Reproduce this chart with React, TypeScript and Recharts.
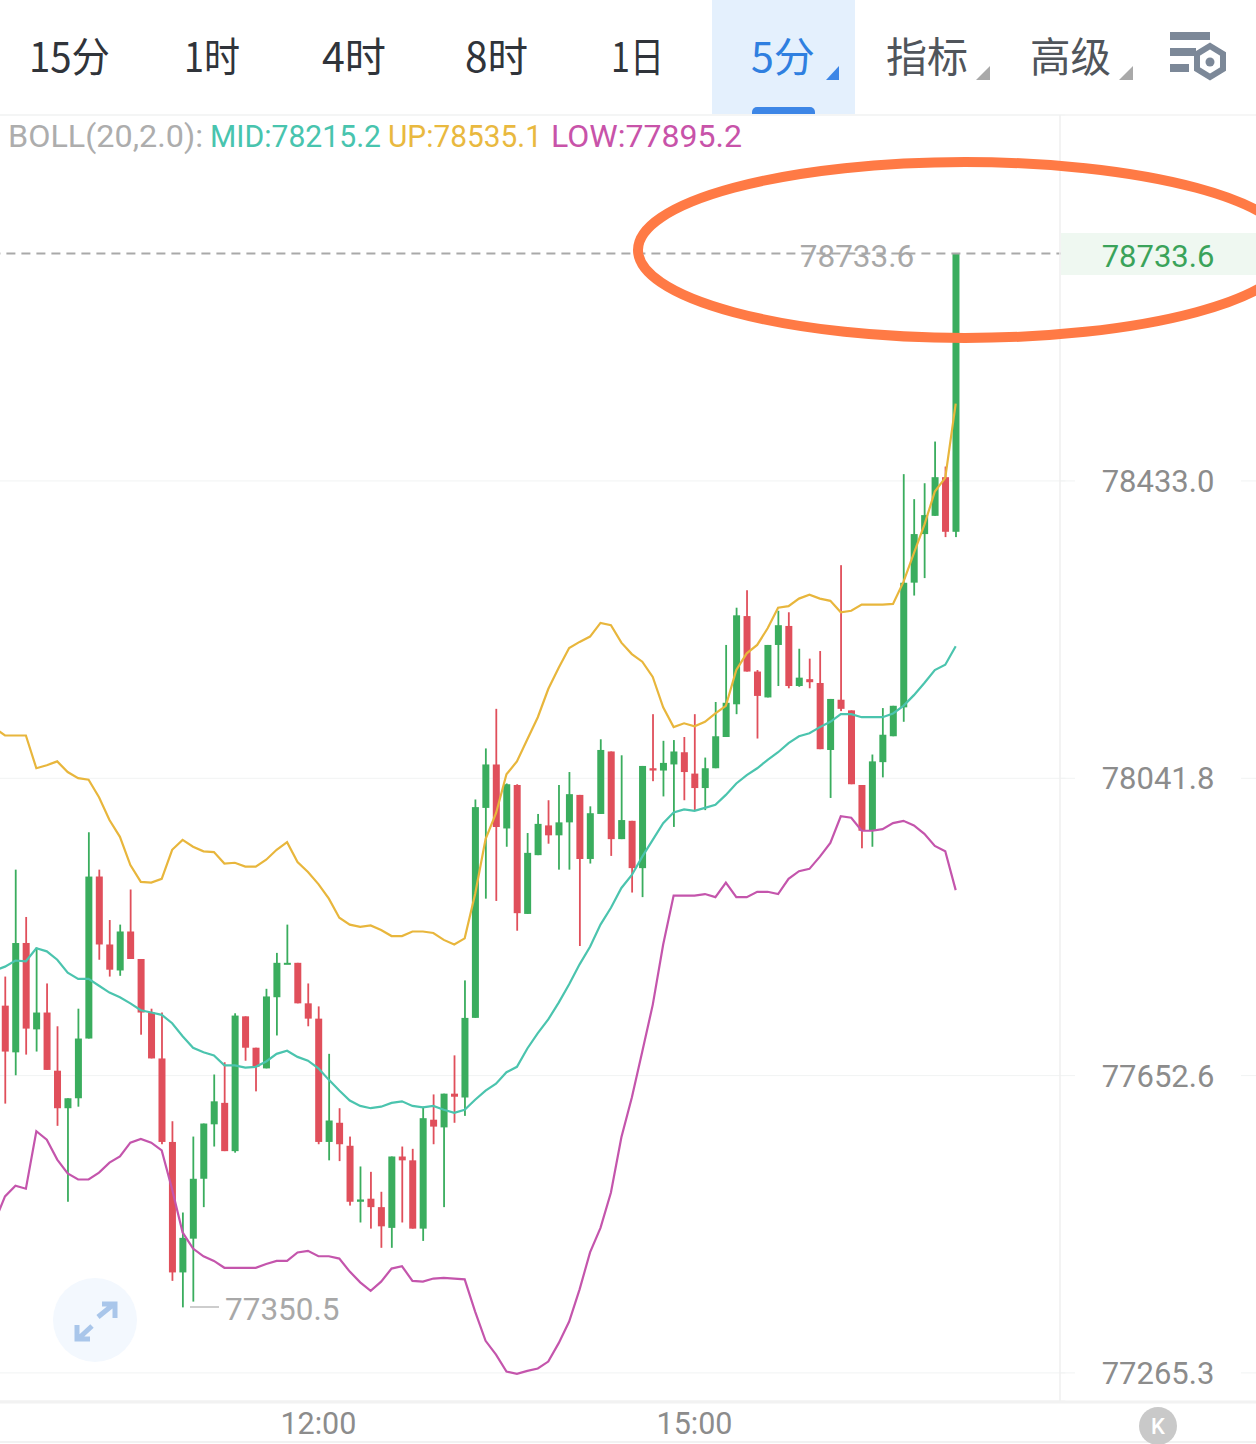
import React from "react";
import { ComposedChart, Bar, Line, XAxis, YAxis, CartesianGrid, ReferenceLine } from "recharts";

// first entry is the 09:25 candle that sits just off the left edge, only its bands show
const opens = [null,
  77744, 77683, 77826, 77713, 77735, 77659, 77610, 77623, 77701, 77913,
  77824, 77790, 77841, 77805, 77735, 77675, 77566, 77396, 77440, 77518,
  77589, 77617, 77554, 77730, 77689, 77662, 77755, 77799, 77800, 77747,
  77727, 77566, 77591, 77561, 77488, 77492, 77481, 77454, 77547, 77542,
  77453, 77595, 77585, 77629, 77624, 77728, 78003, 78060, 77976, 78033,
  77864, 77941, 77980, 77967, 77984, 78020, 77936, 77995, 78077, 77962,
  77986, 77924, 78055, 78052, 78060, 78076, 78048, 78029, 78055, 78096,
  78139, 78255, 78182, 78148, 78217, 78242, 78163, 78172, 78167, 78079,
  78145, 78131, 78033, 77973, 78063, 78097, 78135, 78299, 78363, 78387,
  78438, 78366];
const closes = [null,
  77684, 77826, 77714, 77735, 77660, 77610, 77623, 77701, 77913, 77824,
  77791, 77841, 77805, 77735, 77675, 77566, 77396, 77441, 77518, 77590,
  77619, 77554, 77731, 77689, 77664, 77756, 77800, 77800, 77747, 77727,
  77566, 77594, 77563, 77488, 77491, 77481, 77456, 77547, 77542, 77453,
  77597, 77586, 77629, 77625, 77728, 78004, 78060, 77978, 78034, 77865,
  77944, 77982, 77967, 77984, 78021, 77936, 77996, 78079, 77962, 77987,
  77924, 78058, 78052, 78062, 78077, 78050, 78029, 78055, 78097, 78141,
  78256, 78182, 78150, 78217, 78243, 78163, 78174, 78168, 78080, 78146,
  78133, 78034, 77973, 78064, 78099, 78137, 78299, 78363, 78388, 78438,
  78366, 78733.6];
const highs = [null,
  77782, 77922, 77860, 77820, 77773, 77717, 77623, 77740, 77971, 77922,
  77856, 77850, 77896, 77805, 77740, 77735, 77593, 77474, 77573, 77590,
  77654, 77670, 77734, 77730, 77689, 77766, 77813, 77850, 77800, 77773,
  77743, 77681, 77610, 77573, 77534, 77527, 77501, 77547, 77560, 77557,
  77612, 77628, 77629, 77679, 77777, 78014, 78081, 78133, 78035, 78034,
  77970, 77995, 78013, 78033, 78050, 78020, 78005, 78093, 78077, 78072,
  77986, 78058, 78126, 78091, 78092, 78096, 78126, 78069, 78142, 78217,
  78266, 78289, 78184, 78217, 78262, 78260, 78212, 78199, 78209, 78146,
  78322, 78131, 78033, 78073, 78134, 78137, 78442, 78409, 78430, 78485,
  78452, 78733.6];
const lows = [null,
  77616, 77653, 77680, 77684, 77660, 77587, 77488, 77612, 77701, 77804,
  77782, 77783, 77805, 77706, 77675, 77563, 77385, 77350.5, 77358, 77481,
  77560, 77554, 77552, 77672, 77632, 77662, 77705, 77799, 77747, 77717,
  77563, 77542, 77541, 77483, 77461, 77453, 77428, 77428, 77461, 77453,
  77437, 77563, 77481, 77591, 77600, 77728, 77884, 77881, 77952, 77842,
  77864, 77941, 77956, 77922, 77922, 77822, 77930, 77995, 77940, 77962,
  77892, 77886, 78038, 78018, 77978, 78013, 78000, 78000, 78055, 78096,
  78126, 78182, 78094, 78148, 78163, 78160, 78162, 78160, 78080, 78016,
  78130, 78034, 77950, 77952, 78043, 78097, 78116, 78282, 78305, 78387,
  78359, 78359];

const bollUp = [78108,
  78098, 78098, 78098, 78055, 78059, 78064, 78050, 78042, 78040, 78017,
  77987, 77965, 77928, 77906, 77905, 77910, 77948, 77961, 77952, 77946,
  77945, 77930, 77931, 77926, 77926, 77935, 77948, 77958, 77932, 77919,
  77903, 77884, 77859, 77850, 77847, 77849, 77843, 77835, 77835, 77841,
  77841, 77839, 77830, 77824, 77832, 77890, 77962, 77996, 78047, 78064,
  78093, 78122, 78159, 78187, 78213, 78221, 78228, 78246, 78243, 78220,
  78205, 78195, 78175, 78135, 78109, 78114, 78110, 78116, 78127, 78137,
  78184, 78206, 78217, 78239, 78266, 78268, 78278, 78283, 78278, 78275,
  78260, 78262, 78270, 78270, 78270, 78271, 78300, 78338, 78375, 78419,
  78437, 78535.1];
const bollMid = [77790,
  77795, 77803, 77802, 77819, 77815, 77804, 77787, 77779, 77779, 77770,
  77761, 77755, 77747, 77738, 77735, 77732, 77721, 77704, 77689, 77683,
  77679, 77666, 77666, 77663, 77664, 77671, 77681, 77685, 77677, 77672,
  77662, 77647, 77633, 77620, 77613, 77610, 77612, 77617, 77619, 77613,
  77611, 77613, 77608, 77604, 77608, 77621, 77633, 77642, 77657, 77664,
  77688, 77708, 77726, 77748, 77772, 77798, 77821, 77850, 77872, 77898,
  77915, 77939, 77961, 77983, 77997, 78001, 77999, 78003, 78007, 78020,
  78035, 78046, 78055, 78066, 78076, 78088, 78097, 78101, 78109, 78116,
  78126, 78126, 78122, 78122, 78122, 78127, 78137, 78151, 78167, 78184,
  78191, 78215.2];
const bollLow = [77462,
  77495, 77509, 77505, 77580, 77569, 77543, 77525, 77517, 77517, 77526,
  77539, 77547, 77565, 77570, 77565, 77555, 77504, 77448, 77427, 77417,
  77411, 77402, 77402, 77402, 77402, 77407, 77411, 77411, 77422, 77424,
  77417, 77417, 77414, 77397, 77383, 77372, 77384, 77401, 77404, 77385,
  77384, 77388, 77389, 77388, 77387, 77345, 77307, 77289, 77267, 77264,
  77268, 77271, 77280, 77304, 77332, 77374, 77422, 77454, 77500, 77572,
  77624, 77684, 77745, 77824, 77888, 77888, 77888, 77890, 77886, 77905,
  77886, 77886, 77893, 77893, 77890, 77910, 77920, 77923, 77939, 77957,
  77992, 77990, 77973, 77973, 77975, 77983, 77986, 77980, 77969, 77953,
  77946, 77895.2];

const priceTicks = [78433.0, 78041.8, 77652.6, 77265.3];
const timeTicks = ["12:00", "15:00"];
const lastPrice = 78733.6;
const lowestPrice = "77350.5";

const GREEN = "#3aad5e";
const RED = "#e04f5b";
const FONT = "Roboto, 'Noto Sans CJK SC', sans-serif";
const SLOTS = 103;

// 5 minute candles, the chart keeps some empty slots after the last one
const label = (i: number) => {
  const m = 9 * 60 + 25 + i * 5;
  return `${String(Math.floor(m / 60)).padStart(2, "0")}:${String(m % 60).padStart(2, "0")}`;
};
const rows = Array.from({ length: SLOTS }, (_, i) => ({
  time: label(i),
  open: opens[i],
  high: highs[i],
  low: lows[i],
  close: closes[i],
  up: bollUp[i],
  mid: bollMid[i],
  dn: bollLow[i],
}));

function Candle(props: any) {
  const { x, y, width, height, payload } = props;
  if (payload.open == null || payload.high == null) return null;
  const { open, close, high, low } = payload;
  const py = (v: number) => y + ((high - v) / (high - low)) * height;
  const top = py(Math.max(open, close));
  const bottom = py(Math.min(open, close));
  const color = close >= open ? GREEN : RED;
  const cx = x + width / 2;
  return (
    <g>
      <rect x={cx - 0.9} y={y} width={1.8} height={height} fill={color} />
      <rect x={x} y={top} width={width} height={Math.max(bottom - top, 2)} fill={color} />
    </g>
  );
}

function PriceTick(props: any) {
  const { y, payload } = props;
  return (
    <g>
      <line x1={1060} x2={1075} y1={y} y2={y} stroke="#f1f3f3" />
      <line x1={1241} x2={1256} y1={y} y2={y} stroke="#f1f3f3" />
      <text x={1158} y={y + 11} textAnchor="middle" fontSize={31} fontFamily={FONT} fill="#8c8c8c">
        {payload.value.toFixed(1)}
      </text>
    </g>
  );
}

function TimeTick(props: any) {
  const { x, payload } = props;
  return (
    <text x={x} y={1434} textAnchor="middle" fontSize={30.5} fontFamily={FONT} fill="#8c8c8c">
      {payload.value}
    </text>
  );
}

function Toolbar() {
  const tabs = [
    { t: "15分", x: 29, w: 81, c: "#30343a" },
    { t: "1时", x: 184, w: 56, c: "#30343a" },
    { t: "4时", x: 322, w: 64, c: "#30343a" },
    { t: "8时", x: 465, w: 63, c: "#30343a" },
    { t: "1日", x: 611, w: 53, c: "#30343a" },
    { t: "5分", x: 751, w: 64, c: "#2f7fe0" },
    { t: "指标", x: 886, w: 82, c: "#50555b" },
    { t: "高级", x: 1030, w: 81, c: "#50555b" },
  ];
  return (
    <g>
      <rect x={712} y={0} width={143} height={114} fill="#e4f0fd" />
      <path d="M752 114 v-2 a5 5 0 0 1 5 -5 h53 a5 5 0 0 1 5 5 v2 z" fill="#3d86e6" />
      {tabs.map((d) => (
        <text
          key={d.t}
          x={d.x}
          y={72}
          fontSize={41}
          textLength={d.w}
          lengthAdjust="spacingAndGlyphs"
          fontFamily="'Noto Sans CJK SC', sans-serif"
          fill={d.c}
        >
          {d.t}
        </text>
      ))}
      <path d="M839 66 v14 h-13 z" fill="#3d86e6" />
      <path d="M990 66 v14 h-14 z" fill="#a9a9a9" />
      <path d="M1133 66 v14 h-14 z" fill="#a9a9a9" />
      <rect x={1170} y={32} width={40} height={8} fill="#7c8898" />
      <rect x={1170} y={48} width={26} height={8} fill="#7c8898" />
      <rect x={1170} y={64} width={19} height={8} fill="#7c8898" />
      <path d="M1210 46 l13 8 v15 l-13 8 l-13 -8 v-15 z" fill="none" stroke="#7c8898" strokeWidth={6} />
      <circle cx={1210} cy={62} r={4.5} fill="#7c8898" />
    </g>
  );
}

function LegendText({ x, w, c, t }: { x: number; w: number; c: string; t: string }) {
  return (
    <text x={x} y={147} fontSize={31} fontFamily={FONT} fill={c} textLength={w} lengthAdjust="spacingAndGlyphs">
      {t}
    </text>
  );
}

function Overlay() {
  return (
    <svg width={1256} height={1444} style={{ position: "absolute", left: 0, top: 0 }}>
      <Toolbar />
      <line x1={0} x2={1256} y1={115} y2={115} stroke="#f3f3f3" strokeWidth={1.5} />
      <line x1={1060} x2={1060} y1={115} y2={1401} stroke="#efefef" strokeWidth={1.5} />
      <line x1={0} x2={1256} y1={1402} y2={1402} stroke="#f2f2f2" strokeWidth={3} />
      <line x1={0} x2={1256} y1={1442} y2={1442} stroke="#f2f2f2" strokeWidth={2} />

      <LegendText x={8} w={195} c="#adadad" t="BOLL(20,2.0):" />
      <LegendText x={210} w={171} c="#48c4ae" t="MID:78215.2" />
      <LegendText x={388} w={154} c="#e9b93f" t="UP:78535.1" />
      <LegendText x={551} w={191} c="#c853a9" t="LOW:77895.2" />

      <rect x={1061} y={233} width={195} height={42} fill="#eff8f1" />
      <text x={1158} y={267} textAnchor="middle" fontSize={31} fontFamily={FONT} fill="#3aa35a">
        {lastPrice.toFixed(1)}
      </text>
      <text x={857} y={267} textAnchor="middle" fontSize={31.5} fontFamily={FONT} fill="#a8a8a8">
        {lastPrice.toFixed(1)}
      </text>

      <line x1={190} x2={219} y1={1307} y2={1307} stroke="#bdbdbd" strokeWidth={1.5} />
      <text x={225} y={1320} fontSize={31.5} fontFamily={FONT} fill="#a8a8a8">
        {lowestPrice}
      </text>

      <circle cx={95} cy={1320} r={42} fill="#f3f8fe" />
      <g fill="none" stroke="#a9c6ea" strokeWidth={5}>
        <path d="M98 1317 L114 1304 M102 1304 H115 V1318" />
        <path d="M92 1326 L78 1339 M77 1325 V1339 H90" />
      </g>

      <circle cx={1158} cy={1426} r={19} fill="#c9c9c9" />
      <text x={1158} y={1434} textAnchor="middle" fontSize={22} fontFamily={FONT} fontWeight={500} fill="#fff">
        K
      </text>

      <ellipse cx={965} cy={250} rx={327} ry={88} fill="none" stroke="#ff7a45" strokeWidth={10} />
    </svg>
  );
}

export default function App() {
  return (
    <div style={{ position: "absolute", left: 0, top: 0, width: 1256, height: 1444, overflow: "hidden", background: "#fff" }}>
      <ComposedChart
        width={1256}
        height={1444}
        data={rows}
        margin={{ top: 115, right: 0.6, bottom: 0, left: -10.67 }}
        barCategoryGap={0}
      >
        <CartesianGrid horizontal vertical={false} stroke="#f1f3f3" />
        <XAxis
          dataKey="time"
          ticks={timeTicks}
          interval={0}
          height={43}
          axisLine={false}
          tickLine={false}
          tick={<TimeTick />}
        />
        <YAxis
          orientation="right"
          scale="log"
          domain={[77228.8, 78917.2]}
          ticks={priceTicks}
          interval={0}
          width={190}
          axisLine={false}
          tickLine={false}
          tick={<PriceTick />}
        />
        <ReferenceLine y={lastPrice} stroke="#a9a9a9" strokeWidth={1.8} strokeDasharray="9 6" />
        <Bar
          dataKey={(r: any) => (r.high == null ? null : [r.low, r.high])}
          barSize={7}
          shape={<Candle />}
          isAnimationActive={false}
        />
        <Line dataKey="mid" stroke="#4bc4ae" strokeWidth={2.2} dot={false} isAnimationActive={false} />
        <Line dataKey="up" stroke="#e8b63c" strokeWidth={2.2} dot={false} isAnimationActive={false} />
        <Line dataKey="dn" stroke="#c455ac" strokeWidth={2.2} dot={false} isAnimationActive={false} />
      </ComposedChart>
      <Overlay />
    </div>
  );
}
